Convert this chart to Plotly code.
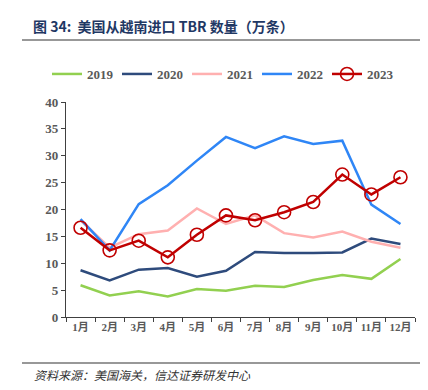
import plotly.graph_objects as go

months = ["1月", "2月", "3月", "4月", "5月", "6月", "7月", "8月", "9月", "10月", "11月", "12月"]
y2019 = [5.9, 4.0, 4.8, 3.8, 5.2, 4.9, 5.8, 5.6, 6.9, 7.8, 7.1, 10.8]
y2020 = [8.7, 6.8, 8.8, 9.1, 7.5, 8.6, 12.1, 11.9, 11.9, 12.0, 14.6, 13.6]
y2021 = [18.0, 12.9, 15.4, 16.1, 20.2, 17.3, 18.9, 15.6, 14.8, 15.9, 14.0, 12.9]
y2022 = [18.2, 12.4, 21.0, 24.5, 29.1, 33.5, 31.4, 33.6, 32.2, 32.8, 20.9, 17.3]
y2023 = [16.6, 12.4, 14.2, 11.1, 15.3, 18.9, 18.0, 19.5, 21.4, 26.5, 22.8, 26.0]

series = [
    ("2019", y2019, "#92D050"),
    ("2020", y2020, "#2E4B7C"),
    ("2021", y2021, "#FFB0B0"),
    ("2022", y2022, "#2F86F6"),
]

fig = go.Figure()
for name, ys, col in series:
    fig.add_trace(go.Scatter(x=months, y=ys, name=name, mode="lines",
                             line=dict(color=col, width=2.5)))
fig.add_trace(go.Scatter(x=months, y=y2023, name="2023", mode="lines+markers",
                         line=dict(color="#C00000", width=2.5),
                         marker=dict(symbol="circle-open", size=13, color="#C00000",
                                     line=dict(width=1.6, color="#C00000"))))

W, H = 428, 390
L, R, T, B = 58, 21, 94, 81
pw = W - L - R
ph = H - T - B

def px(x):
    return (x - L) / pw

def py(y):
    return (H - B - y) / ph

fig.update_layout(
    width=W, height=H,
    margin=dict(l=L, r=R, t=T, b=B),
    paper_bgcolor="white", plot_bgcolor="white",
    showlegend=True,
    legend=dict(orientation="h", x=px(39), xanchor="left", y=py(66), yanchor="middle",
                font=dict(family="Liberation Serif", size=13, color="#595959", weight="bold"),
                itemwidth=30, entrywidth=25, entrywidthmode="pixels",
                bgcolor="rgba(0,0,0,0)", tracegroupgap=0),
    xaxis=dict(type="category", range=[-0.5, 11.5], showgrid=False, showline=True,
               linecolor="#404040", linewidth=1.2, ticks="outside", tickson="boundaries",
               ticklen=4, tickcolor="#404040", tickangle=0,
               tickfont=dict(family="Liberation Serif, Noto Sans CJK SC", size=11, color="#595959", weight="bold"),
               fixedrange=True),
    yaxis=dict(range=[0, 40], dtick=5, showgrid=False, showline=True, zeroline=False,
               linecolor="#404040", linewidth=1.2, ticks="outside", ticklen=4,
               tickcolor="#404040", tickfont=dict(family="Liberation Serif", size=13, color="#595959", weight="bold"),
               fixedrange=True),
    shapes=[
        dict(type="line", xref="paper", yref="paper", x0=px(14), x1=px(425), y0=py(32), y1=py(32),
             line=dict(color="#333333", width=1.2)),
        dict(type="line", xref="paper", yref="paper", x0=px(14), x1=px(425), y0=py(355), y1=py(355),
             line=dict(color="#333333", width=1.2)),
    ],
    annotations=[
        dict(text="<b>图 34:  美国从越南进口 TBR 数量（万条）</b>", xref="paper", yref="paper",
             x=px(23), y=py(18), xanchor="left", yanchor="middle", showarrow=False,
             font=dict(family="Noto Sans CJK SC", size=14, color="#1F3864")),
        dict(text="<i>资料来源：美国海关，信达证券研发中心</i>", xref="paper", yref="paper",
             x=px(24), y=py(366), xanchor="left", yanchor="middle", showarrow=False,
             font=dict(family="Noto Sans CJK SC", size=12, color="#333333")),
    ],
)

fig.write_html("out.html")
